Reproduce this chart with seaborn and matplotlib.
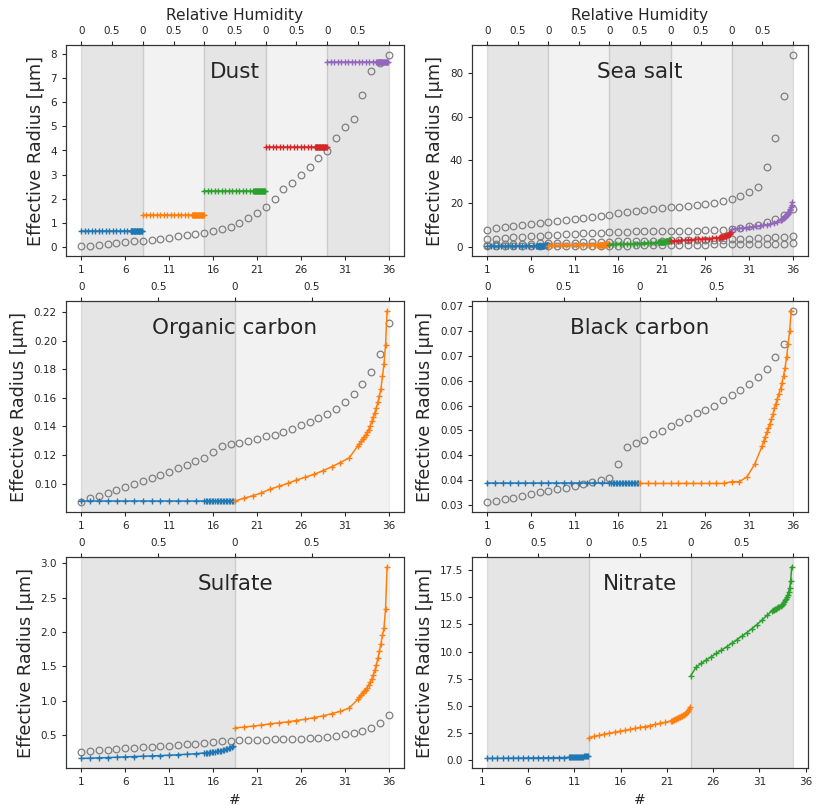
import matplotlib
matplotlib.use("Agg")
import matplotlib.pyplot as plt
import seaborn as sns
from matplotlib.ticker import FixedLocator, FixedFormatter, MultipleLocator

sns.set_style("ticks")
plt.rcParams["font.family"] = ["DejaVu Sans"]

# ---------------- data ----------------
idx = list(range(1, 37))
bottom_ticks = [1, 6, 11, 16, 21, 26, 31, 36]

RH_A = [0.0, 0.057, 0.114, 0.171, 0.229, 0.286, 0.343, 0.4, 0.457, 0.514, 0.571,
        0.629, 0.686, 0.743, 0.8,
        0.81, 0.82, 0.83, 0.84, 0.85, 0.86, 0.87, 0.88, 0.89, 0.90, 0.91, 0.92,
        0.93, 0.94, 0.95, 0.96, 0.97, 0.98, 0.99]
RH_B = [0.0, 0.05, 0.10, 0.15, 0.20, 0.25, 0.30, 0.35, 0.40, 0.45, 0.50, 0.55,
        0.60, 0.65, 0.70, 0.75, 0.80,
        0.81, 0.82, 0.83, 0.84, 0.85, 0.86, 0.87, 0.88, 0.89, 0.90, 0.91, 0.92,
        0.93, 0.94, 0.95, 0.96, 0.97, 0.98, 0.99]

# Dust
dust_circles = [0.02, 0.04, 0.07, 0.13, 0.16, 0.20, 0.23, 0.25, 0.28, 0.31, 0.36, 0.45,
                0.50, 0.54, 0.58, 0.64, 0.73, 0.81, 1.01, 1.20, 1.40, 1.66, 2.00, 2.39,
                2.66, 2.98, 3.33, 3.67, 3.99, 4.50, 4.99, 5.32, 6.31, 7.31, 7.63, 7.98]
dust_bins = [0.65, 1.33, 2.30, 4.16, 7.67]   # hydrophobic: constant with RH

# Sea salt
ss_circ_a = [7.9, 8.4, 8.9, 9.4, 9.9, 10.4, 10.9, 11.4, 11.9, 12.4, 12.9, 13.3, 13.8, 14.2,
             14.8, 15.5, 16.1, 16.5, 16.9, 17.3, 17.7, 18.1, 18.5, 18.9, 19.3, 19.7, 20.2,
             20.9, 22.0, 23.3, 25.2, 27.6, 37.0, 50.0, 69.6, 88.7]
ss_circ_b = [3.4, 3.7, 4.0, 4.3, 4.5, 4.8, 5.0, 5.2, 5.5, 5.7, 5.9, 6.1, 6.3, 6.5, 6.7, 6.8,
             6.9, 7.0, 7.0, 7.1, 7.1, 7.2, 7.2, 7.3, 7.4, 7.5, 7.6, 7.8, 8.2, 8.7, 9.3, 10.0,
             11.2, 12.7, 14.6, 17.2]
ss_circ_c = [0.9, 1.0, 1.1, 1.2, 1.3, 1.4, 1.5, 1.6, 1.7, 1.8, 1.9, 2.0, 2.1, 2.2, 2.3, 2.4,
             2.5, 2.6, 2.7, 2.75, 2.8, 2.85, 2.9, 2.95, 3.0, 3.05, 3.1, 3.2, 3.3, 3.45, 3.6,
             3.8, 4.0, 4.25, 4.6, 5.0]
ss_circ_d = [0.1, 0.12, 0.14, 0.16, 0.18, 0.2, 0.22, 0.24, 0.26, 0.28, 0.3, 0.33, 0.36, 0.39,
             0.42, 0.45, 0.5, 0.55, 0.6, 0.65, 0.7, 0.75, 0.8, 0.85, 0.9, 0.95, 1.0, 1.05,
             1.1, 1.15, 1.2, 1.25, 1.3, 1.35, 1.4, 1.5]
ss_bin1 = [0.25, 0.26, 0.27, 0.28, 0.29, 0.30, 0.31, 0.32, 0.33, 0.34, 0.35, 0.36, 0.38, 0.40,
           0.42, 0.42, 0.43, 0.43, 0.44, 0.44, 0.45, 0.45, 0.46, 0.47, 0.48, 0.49, 0.50, 0.51,
           0.52, 0.53, 0.55, 0.57, 0.60, 0.65]
ss_bin2 = [0.50, 0.52, 0.54, 0.56, 0.58, 0.60, 0.62, 0.64, 0.66, 0.68, 0.70, 0.73, 0.76, 0.80,
           0.84, 0.85, 0.86, 0.87, 0.88, 0.89, 0.90, 0.91, 0.92, 0.93, 0.94, 0.96, 0.98, 1.00,
           1.02, 1.05, 1.08, 1.12, 1.17, 1.25]
ss_bin3 = [0.95, 1.00, 1.05, 1.10, 1.15, 1.20, 1.25, 1.30, 1.36, 1.42, 1.50, 1.58, 1.68, 1.80,
           1.95, 1.98, 2.01, 2.04, 2.07, 2.10, 2.13, 2.16, 2.20, 2.24, 2.28, 2.32, 2.37, 2.42,
           2.48, 2.55, 2.62, 2.70, 2.80, 2.95]
ss_bin4 = [2.6, 2.7, 2.8, 2.9, 3.0, 3.1, 3.2, 3.3, 3.4, 3.5, 3.6, 3.7, 3.85, 4.0, 4.2, 4.27,
           4.34, 4.41, 4.48, 4.56, 4.64, 4.72, 4.81, 4.9, 5.0, 5.1, 5.2, 5.33, 5.47, 5.62,
           5.8, 6.0, 6.3, 6.8]
ss_bin5 = [8.0, 8.2, 8.4, 8.6, 8.8, 9.0, 9.2, 9.4, 9.6, 9.8, 10.1, 10.5, 11.0, 11.6, 12.3,
           12.5, 12.7, 12.9, 13.1, 13.3, 13.5, 13.7, 14.0, 14.3, 14.6, 14.9, 15.3, 15.7,
           16.2, 16.8, 17.5, 18.3, 19.2, 20.4]

# Organic carbon
oc_circles = [0.0869, 0.0897, 0.0915, 0.0936, 0.0959, 0.0977, 0.1000, 0.1020, 0.1040, 0.1060,
              0.1085, 0.1110, 0.1130, 0.1156, 0.1180, 0.1220, 0.1264, 0.1278, 0.1287, 0.1300,
              0.1313, 0.1330, 0.1343, 0.1360, 0.1384, 0.1407, 0.1430, 0.1457, 0.1490, 0.1524,
              0.1570, 0.1630, 0.1697, 0.1782, 0.1910, 0.2122]
oc_hydrophobic = 0.0878
oc_hydrophilic = [0.0878, 0.0898, 0.0915, 0.0935, 0.0962, 0.0982, 0.1002, 0.1025, 0.1045,
                  0.1065, 0.1090, 0.1118, 0.1148, 0.1180, 0.1265, 0.1280, 0.1295, 0.1310,
                  0.1325, 0.1340, 0.1358, 0.1378, 0.1405, 0.1435, 0.1465, 0.1495, 0.1530,
                  0.1570, 0.1615, 0.1665, 0.1750, 0.1840, 0.1970, 0.2210]

# Black carbon
bc_circles = [0.0306, 0.0309, 0.0312, 0.0315, 0.0319, 0.0322, 0.0326, 0.0329, 0.0332, 0.0335,
              0.0338, 0.0342, 0.0346, 0.0350, 0.0355, 0.0383, 0.0416, 0.0425, 0.0431, 0.0442,
              0.0449, 0.0458, 0.0467, 0.0475, 0.0485, 0.0491, 0.0500, 0.0511, 0.0521, 0.0531,
              0.0544, 0.0558, 0.0574, 0.0597, 0.0623, 0.0689]
bc_hydrophobic = 0.0344
bc_hydrophilic = [0.0344, 0.0344, 0.0344, 0.0344, 0.0344, 0.0344, 0.0344, 0.0344, 0.0344,
                  0.0344, 0.0344, 0.0344, 0.03475, 0.03475, 0.0357, 0.0382, 0.0419,
                  0.0429, 0.0437, 0.0446, 0.0455, 0.0463, 0.0472, 0.0482, 0.0494, 0.0504,
                  0.0514, 0.0524, 0.0534, 0.0546, 0.0560, 0.0576, 0.0597, 0.0623, 0.0650,
                  0.0690]
bc_yticks = [0.030, 0.035, 0.040, 0.045, 0.050, 0.055, 0.060, 0.065, 0.070]
bc_yticklabels = ["0.03", "0.04", "0.04", "0.05", "0.06", "0.06", "0.07", "0.07", "0.07"]

# Sulfate
su_circles = [0.256, 0.268, 0.279, 0.289, 0.299, 0.308, 0.316, 0.324, 0.331, 0.338, 0.346,
              0.355, 0.364, 0.374, 0.385, 0.398, 0.412, 0.418, 0.422, 0.425, 0.429, 0.433,
              0.436, 0.440, 0.444, 0.449, 0.456, 0.463, 0.475, 0.492, 0.512, 0.534, 0.562,
              0.605, 0.677, 0.797]
su_bin1 = [0.160, 0.163, 0.168, 0.172, 0.177, 0.182, 0.187, 0.192, 0.196, 0.201, 0.206,
           0.213, 0.220, 0.228, 0.239, 0.241, 0.243, 0.245, 0.248, 0.251, 0.254, 0.257,
           0.261, 0.265, 0.269, 0.273, 0.278, 0.284, 0.290, 0.297, 0.305, 0.315, 0.327, 0.342]
su_bin2 = [0.605, 0.615, 0.629, 0.644, 0.663, 0.677, 0.692, 0.711, 0.730, 0.754, 0.778,
           0.811, 0.845, 0.893, 1.020, 1.050, 1.084, 1.110, 1.135, 1.160, 1.190, 1.228,
           1.270, 1.320, 1.370, 1.440, 1.520, 1.620, 1.720, 1.830, 1.950, 2.060, 2.340, 2.950]

# Nitrate
ni_bin1 = [0.18, 0.185, 0.19, 0.195, 0.20, 0.205, 0.21, 0.215, 0.22, 0.225, 0.23, 0.235,
           0.24, 0.245, 0.25, 0.26, 0.27, 0.275, 0.28, 0.285, 0.29, 0.295, 0.30, 0.305,
           0.31, 0.315, 0.32, 0.325, 0.33, 0.34, 0.35, 0.36, 0.37, 0.38, 0.40, 0.42]
ni_bin2 = [2.10, 2.20, 2.30, 2.40, 2.49, 2.58, 2.66, 2.75, 2.84, 2.93, 3.02, 3.11, 3.20,
           3.30, 3.40, 3.50, 3.62, 3.66, 3.70, 3.74, 3.78, 3.82, 3.86, 3.90, 3.94, 3.99,
           4.04, 4.09, 4.14, 4.20, 4.27, 4.35, 4.45, 4.57, 4.72, 4.90]
ni_bin3 = [7.79, 8.55, 8.90, 9.22, 9.52, 9.83, 10.13, 10.43, 10.74, 11.07, 11.40, 11.74,
           12.10, 12.48, 12.90, 13.35, 13.75, 13.80, 13.85, 13.90, 13.95, 14.00, 14.06,
           14.13, 14.20, 14.30, 14.40, 14.55, 14.70, 14.85, 15.02, 15.20, 15.50, 15.85,
           16.50, 17.80]

titles = ["Dust", "Sea salt", "Organic carbon", "Black carbon", "Sulfate", "Nitrate"]

panels = [
    dict(title=titles[0], circles=[dust_circles],
         series=[[v] * len(RH_A) for v in dust_bins], rh=RH_A,
         starts=[1, 8, 15, 22, 29], width=7, ystep=1),
    dict(title=titles[1], circles=[ss_circ_a, ss_circ_b, ss_circ_c, ss_circ_d],
         series=[ss_bin1, ss_bin2, ss_bin3, ss_bin4, ss_bin5], rh=RH_A,
         starts=[1, 8, 15, 22, 29], width=7, ystep=20),
    dict(title=titles[2], circles=[oc_circles],
         series=[[oc_hydrophobic] * len(RH_A), oc_hydrophilic], rh=RH_A,
         starts=[1, 18.5], width=17.5, ystep=0.02),
    dict(title=titles[3], circles=[bc_circles],
         series=[[bc_hydrophobic] * len(RH_B), bc_hydrophilic], rh=RH_B,
         starts=[1, 18.5], width=17.5, ystep=None),
    dict(title=titles[4], circles=[su_circles],
         series=[su_bin1, su_bin2], rh=RH_A,
         starts=[1, 18.5], width=17.5, ystep=0.5),
    dict(title=titles[5], circles=[],
         series=[ni_bin1, ni_bin2, ni_bin3], rh=RH_B,
         starts=[1.6, 12.6, 23.6], width=11, ystep=2.5),
]

# ---------------- figure ----------------
W, H = 817, 805
fig = plt.figure(figsize=(W / 100, H / 100), dpi=100)
fig.patch.set_facecolor("white")

col_left = [66 / W, 472 / W]
col_w = [338 / W, 336 / W]
row_top = [45, 301, 557]
row_h = 211

pal = sns.color_palette("tab10")
TICK = 7.5

for i, p in enumerate(panels):
    r, c = divmod(i, 2)
    ax = fig.add_axes([col_left[c], 1 - (row_top[r] + row_h) / H, col_w[c], row_h / H])
    ax.set_facecolor("white")
    rh, starts, width = p["rh"], p["starts"], p["width"]

    for k, s in enumerate(starts):
        ax.axvspan(s, s + width, color="gray", alpha=0.2 if k % 2 == 0 else 0.1, lw=1.0)

    for circ in p["circles"]:
        sns.lineplot(x=idx, y=circ, ax=ax, linestyle="none", marker="o",
                     markersize=4.8, markerfacecolor="none", markeredgecolor="gray",
                     markeredgewidth=0.9, sort=False, estimator=None, errorbar=None)

    for k, (s, vals) in enumerate(zip(starts, p["series"])):
        xs = [s + v * width for v in rh]
        sns.lineplot(x=xs, y=vals, ax=ax, color=pal[k], marker="+", markersize=4.5,
                     markeredgecolor=pal[k], markeredgewidth=1.0, linewidth=1.1,
                     sort=False, estimator=None, errorbar=None)

    ax.set_xticks(bottom_ticks)
    if p["ystep"] is not None:
        ax.yaxis.set_major_locator(MultipleLocator(p["ystep"]))
    else:
        ax.yaxis.set_major_locator(FixedLocator(bc_yticks))
        ax.yaxis.set_major_formatter(FixedFormatter(bc_yticklabels))
    ax.tick_params(labelsize=TICK, length=3, width=0.8, colors="0.15")
    ax.set_ylabel("Effective Radius [μm]", fontsize=12.7)
    if r == 2:
        ax.set_xlabel("#", fontsize=10)
    ax.text(0.5, 0.87, p["title"], transform=ax.transAxes, ha="center", va="center",
            fontsize=15.5)
    for sp in ax.spines.values():
        sp.set_color("0.2")
        sp.set_linewidth(0.8)

    xl = ax.get_xlim()
    ax2 = ax.twiny()
    ax2.set_xlim(xl)
    top_ticks, top_labels = [], []
    for s in starts:
        top_ticks += [s, s + 0.5 * width]
        top_labels += ["0", "0.5"]
    top_ticks.append(starts[-1] + width)
    top_labels.append("")
    ax2.set_xticks(top_ticks)
    ax2.set_xticklabels(top_labels)
    ax2.tick_params(labelsize=TICK, length=3, width=0.8, colors="0.15")
    for sp in ax2.spines.values():
        sp.set_color("0.2")
        sp.set_linewidth(0.8)
    if r == 0:
        ax2.set_xlabel("Relative Humidity", fontsize=11.1)

fig.savefig("out.png", dpi=100, facecolor="white")
